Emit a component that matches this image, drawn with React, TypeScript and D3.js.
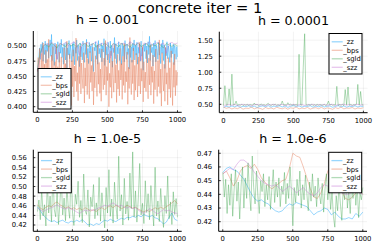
import React from 'react'
import * as d3 from 'd3'

const seriesNames = ['_zz', '_bps', '_sgld', '_szz']
const seriesColors = ['#009AFA', '#E36F47', '#3EA44E', '#C271D2']
const xTicks = [0, 250, 500, 750, 1000]
const mainTitle = 'concrete iter = 1'
const panelTitles = ['h = 0.001', 'h = 0.0001', 'h = 1.0e-5', 'h = 1.0e-6']

const yTicks1 = [0.4, 0.425, 0.45, 0.475, 0.5]
const yTicks2 = [0.5, 0.75, 1.0, 1.25, 1.5]
const yTicks3 = [0.42, 0.44, 0.46, 0.48, 0.5, 0.52, 0.54, 0.56]
const yTicks4 = [0.42, 0.43, 0.44, 0.45, 0.46, 0.47]

// h = 0.001
const zz1 = [
  0.462, 0.471, 0.484, 0.497, 0.478, 0.503, 0.489, 0.506, 0.475, 0.499,
  0.486, 0.508, 0.472, 0.502, 0.491, 0.505, 0.48, 0.497, 0.51, 0.483,
  0.519, 0.476, 0.503, 0.493, 0.468, 0.505, 0.487, 0.499, 0.478, 0.507,
  0.495, 0.473, 0.502, 0.488, 0.511, 0.481, 0.498, 0.47, 0.504, 0.492,
  0.477, 0.506, 0.463, 0.497, 0.485, 0.509, 0.479, 0.501, 0.49, 0.474,
  0.504, 0.483, 0.507, 0.469, 0.498, 0.488, 0.51, 0.476, 0.502, 0.494,
  0.466, 0.505, 0.482, 0.499, 0.477, 0.508, 0.491, 0.473, 0.503, 0.486,
  0.511, 0.48, 0.496, 0.471, 0.506, 0.489, 0.5, 0.475, 0.504, 0.484,
  0.458, 0.498, 0.492, 0.507, 0.478, 0.502, 0.47, 0.509, 0.487, 0.496,
  0.481, 0.505, 0.474, 0.5, 0.49, 0.512, 0.468, 0.503, 0.485, 0.499,
  0.477, 0.506, 0.493, 0.472, 0.508, 0.484, 0.501, 0.465, 0.497, 0.489,
  0.514, 0.479, 0.504, 0.471, 0.498, 0.487, 0.507, 0.476, 0.502, 0.494,
  0.469, 0.505, 0.483, 0.5, 0.474, 0.509, 0.49, 0.478, 0.503, 0.486,
  0.496, 0.462, 0.507, 0.481, 0.499, 0.473, 0.504, 0.492, 0.51, 0.477,
  0.501, 0.485, 0.506, 0.47, 0.498, 0.488, 0.503, 0.475, 0.508, 0.483,
  0.497, 0.46, 0.502, 0.491, 0.505, 0.479, 0.5, 0.472, 0.507, 0.486,
  0.516, 0.476, 0.503, 0.489, 0.498, 0.467, 0.505, 0.482, 0.509, 0.474,
  0.501, 0.493, 0.478, 0.506, 0.485, 0.499, 0.471, 0.504, 0.488, 0.51,
  0.476, 0.502, 0.463, 0.497, 0.484, 0.507, 0.479, 0.5, 0.49, 0.473,
  0.505, 0.481, 0.498, 0.487, 0.503, 0.469, 0.501, 0.494, 0.478, 0.499,
  0.482
]
const bps1 = [
  0.458, 0.481, 0.437, 0.496, 0.452, 0.423, 0.488, 0.441, 0.505, 0.429,
  0.47, 0.415, 0.493, 0.446, 0.478, 0.426, 0.511, 0.439, 0.463, 0.408,
  0.485, 0.432, 0.499, 0.454, 0.419, 0.474, 0.443, 0.503, 0.428, 0.466,
  0.412, 0.49, 0.448, 0.435, 0.482, 0.405, 0.459, 0.427, 0.497, 0.444,
  0.471, 0.418, 0.508, 0.436, 0.461, 0.424, 0.487, 0.45, 0.402, 0.476,
  0.433, 0.494, 0.416, 0.467, 0.442, 0.513, 0.425, 0.456, 0.41, 0.483,
  0.438, 0.5, 0.421, 0.472, 0.447, 0.43, 0.489, 0.406, 0.464, 0.434,
  0.506, 0.42, 0.479, 0.449, 0.413, 0.491, 0.44, 0.468, 0.426, 0.498,
  0.403, 0.457, 0.431, 0.484, 0.445, 0.417, 0.502, 0.437, 0.473, 0.422,
  0.462, 0.409, 0.495, 0.451, 0.428, 0.48, 0.436, 0.509, 0.419, 0.466,
  0.443, 0.487, 0.4, 0.455, 0.432, 0.492, 0.414, 0.475, 0.448, 0.424,
  0.501, 0.439, 0.469, 0.407, 0.486, 0.429, 0.46, 0.418, 0.496, 0.444,
  0.471, 0.412, 0.483, 0.435, 0.504, 0.423, 0.458, 0.441, 0.49, 0.404,
  0.465, 0.43, 0.514, 0.446, 0.42, 0.477, 0.438, 0.497, 0.411, 0.468,
  0.427, 0.488, 0.453, 0.416, 0.482, 0.434, 0.506, 0.421, 0.463, 0.442,
  0.499, 0.408, 0.474, 0.431, 0.457, 0.425, 0.493, 0.447, 0.413, 0.48,
  0.436, 0.502, 0.419, 0.466, 0.44, 0.485, 0.405, 0.459, 0.428, 0.495,
  0.45, 0.417, 0.476, 0.433, 0.51, 0.422, 0.462, 0.401, 0.489, 0.444,
  0.426, 0.47, 0.409, 0.498, 0.437, 0.456, 0.403, 0.481, 0.429, 0.464,
  0.415, 0.492, 0.441, 0.402, 0.473, 0.432, 0.487, 0.418, 0.46, 0.435,
  0.457
]
const sgld1 = [0.461, 0.489, 0.5, 0.503, 0.498, 0.505, 0.501, 0.497, 0.504, 0.502, 0.499, 0.505, 0.5, 0.503, 0.498, 0.504, 0.501, 0.505, 0.499, 0.502, 0.504, 0.498, 0.503, 0.5, 0.505, 0.501, 0.497, 0.504, 0.502, 0.499, 0.505, 0.5, 0.503, 0.498, 0.504, 0.501, 0.505, 0.499, 0.502, 0.504, 0.498, 0.503, 0.5, 0.505, 0.501, 0.497, 0.504, 0.502, 0.499, 0.503, 0.5]
const szz1 = [0.458, 0.482, 0.499, 0.504, 0.501, 0.506, 0.503, 0.478, 0.505, 0.502, 0.506, 0.5, 0.504, 0.507, 0.502, 0.485, 0.505, 0.503, 0.506, 0.501, 0.504, 0.507, 0.499, 0.505, 0.502, 0.506, 0.48, 0.504, 0.501, 0.506, 0.503, 0.505, 0.5, 0.507, 0.504, 0.502, 0.506, 0.476, 0.505, 0.503, 0.507, 0.501, 0.504, 0.506, 0.502, 0.505, 0.488, 0.504, 0.506, 0.503, 0.505]

// h = 0.0001
const zz2 = [0.452, 0.468, 0.457, 0.474, 0.461, 0.478, 0.455, 0.47, 0.463, 0.476, 0.458, 0.472, 0.45, 0.467, 0.475, 0.46, 0.479, 0.456, 0.471, 0.464, 0.477, 0.459, 0.473, 0.453, 0.469, 0.48, 0.462, 0.475, 0.457, 0.47, 0.466, 0.478, 0.455, 0.472, 0.461, 0.476, 0.458, 0.469, 0.474, 0.454, 0.467, 0.479, 0.46, 0.473, 0.456, 0.47, 0.463, 0.477, 0.459, 0.471, 0.465]
const bps2 = [0.455, 0.438, 0.449, 0.427, 0.444, 0.432, 0.452, 0.424, 0.441, 0.435, 0.456, 0.429, 0.446, 0.437, 0.421, 0.45, 0.433, 0.443, 0.426, 0.454, 0.439, 0.43, 0.447, 0.423, 0.445, 0.436, 0.458, 0.428, 0.442, 0.434, 0.451, 0.425, 0.44, 0.447, 0.431, 0.453, 0.427, 0.444, 0.436, 0.422, 0.448, 0.433, 0.457, 0.429, 0.441, 0.438, 0.45, 0.426, 0.443, 0.435, 0.446]
const sgld2 = [
  0.478, 0.79, 0.485, 0.492, 0.74, 0.481, 0.97, 0.488, 0.495, 0.55,
  0.483, 0.497, 0.486, 0.502, 0.479, 0.494, 0.488, 0.5, 0.482, 0.496,
  0.491, 0.485, 0.52, 0.489, 0.498, 0.48, 0.493, 0.503, 0.487, 0.495,
  0.484, 0.499, 0.515, 0.49, 0.482, 0.497, 0.488, 0.501, 0.485, 0.494,
  0.479, 0.492, 0.55, 0.487, 0.498, 0.483, 0.525, 0.489, 0.502, 0.484,
  0.495, 0.488, 0.499, 0.481, 1.28, 0.49, 0.486, 1.07, 1.6, 0.492,
  0.484, 0.497, 0.489, 0.503, 0.48, 0.494, 0.487, 0.5, 0.483, 0.496,
  0.49, 0.485, 0.498, 0.481, 0.493, 0.55, 0.488, 0.501, 0.484, 0.495,
  0.489, 0.78, 0.482, 0.497, 0.486, 0.5, 0.479, 0.73, 0.491, 0.77,
  0.485, 0.498, 0.483, 0.494, 0.488, 0.502, 0.81, 0.487, 0.7, 0.49,
  0.486
]
const szz2 = [0.468, 0.489, 0.495, 0.483, 0.498, 0.477, 0.492, 0.5, 0.486, 0.496, 0.48, 0.494, 0.499, 0.485, 0.491, 0.476, 0.497, 0.488, 0.501, 0.482, 0.493, 0.498, 0.479, 0.495, 0.487, 0.5, 0.484, 0.492, 0.497, 0.478, 0.494, 0.489, 0.502, 0.481, 0.496, 0.486, 0.499, 0.483, 0.493, 0.498, 0.477, 0.495, 0.49, 0.501, 0.485, 0.497, 0.48, 0.494, 0.499, 0.487, 0.492]

// h = 1.0e-5
const zz3 = [0.458, 0.45, 0.441, 0.435, 0.43, 0.427, 0.429, 0.425, 0.428, 0.43, 0.426, 0.424, 0.428, 0.426, 0.43, 0.427, 0.431, 0.426, 0.42, 0.422, 0.419, 0.423, 0.421, 0.426, 0.43, 0.428, 0.432, 0.429, 0.427, 0.431, 0.434, 0.432, 0.436, 0.435, 0.438, 0.436, 0.44, 0.437, 0.442, 0.439, 0.437, 0.44, 0.435, 0.433, 0.428, 0.422, 0.426, 0.436, 0.445, 0.432, 0.429]
const bps3 = [0.462, 0.455, 0.452, 0.457, 0.46, 0.458, 0.465, 0.468, 0.462, 0.459, 0.455, 0.458, 0.453, 0.456, 0.452, 0.455, 0.451, 0.456, 0.453, 0.449, 0.452, 0.448, 0.453, 0.456, 0.452, 0.457, 0.46, 0.456, 0.461, 0.458, 0.454, 0.457, 0.461, 0.458, 0.455, 0.457, 0.453, 0.45, 0.447, 0.451, 0.448, 0.452, 0.456, 0.453, 0.457, 0.454, 0.458, 0.462, 0.466, 0.471, 0.464]
const sgld3 = [
  0.448, 0.472, 0.431, 0.495, 0.439, 0.462, 0.418, 0.508, 0.445, 0.48,
  0.427, 0.53, 0.452, 0.437, 0.488, 0.421, 0.467, 0.515, 0.441, 0.476,
  0.429, 0.499, 0.456, 0.434, 0.538, 0.447, 0.419, 0.484, 0.463, 0.511,
  0.436, 0.471, 0.425, 0.526, 0.45, 0.442, 0.493, 0.416, 0.478, 0.458,
  0.504, 0.433, 0.466, 0.44, 0.519, 0.428, 0.487, 0.453, 0.414, 0.498,
  0.445, 0.535, 0.438, 0.474, 0.424, 0.509, 0.46, 0.432, 0.563, 0.449,
  0.483, 0.42, 0.517, 0.443, 0.469, 0.43, 0.528, 0.454, 0.572, 0.437,
  0.491, 0.426, 0.476, 0.548, 0.441, 0.465, 0.423, 0.512, 0.446, 0.485,
  0.431, 0.502, 0.457, 0.418, 0.54, 0.439, 0.47, 0.427, 0.496, 0.451,
  0.415, 0.481, 0.444, 0.522, 0.433, 0.468, 0.421, 0.489, 0.442, 0.475,
  0.436
]
const szz3 = [0.455, 0.452, 0.448, 0.451, 0.454, 0.456, 0.459, 0.462, 0.458, 0.455, 0.453, 0.456, 0.454, 0.451, 0.447, 0.444, 0.448, 0.451, 0.449, 0.452, 0.45, 0.453, 0.456, 0.458, 0.461, 0.459, 0.463, 0.466, 0.462, 0.459, 0.461, 0.457, 0.455, 0.458, 0.454, 0.456, 0.451, 0.447, 0.444, 0.449, 0.454, 0.451, 0.446, 0.443, 0.448, 0.452, 0.449, 0.451, 0.447, 0.445, 0.444]

// h = 1.0e-6
const zz4 = [0.456, 0.459, 0.46, 0.458, 0.457, 0.454, 0.451, 0.446, 0.441, 0.437, 0.435, 0.436, 0.434, 0.433, 0.43, 0.428, 0.427, 0.428, 0.431, 0.433, 0.432, 0.434, 0.433, 0.432, 0.431, 0.428, 0.425, 0.427, 0.428, 0.43, 0.429, 0.425, 0.427, 0.424, 0.422, 0.422, 0.423, 0.422, 0.426, 0.424, 0.427]
const bps4 = [0.455, 0.457, 0.452, 0.446, 0.45, 0.457, 0.46, 0.461, 0.459, 0.462, 0.458, 0.452, 0.449, 0.446, 0.444, 0.446, 0.448, 0.45, 0.451, 0.459, 0.47, 0.468, 0.467, 0.46, 0.452, 0.444, 0.438, 0.437, 0.441, 0.448, 0.457, 0.461, 0.455, 0.448, 0.442, 0.437, 0.436, 0.438, 0.441, 0.443, 0.44]
const sgld4 = [
  0.456, 0.438, 0.451, 0.426, 0.447, 0.432, 0.455, 0.424, 0.443, 0.458,
  0.435, 0.449, 0.422, 0.446, 0.46, 0.43, 0.452, 0.437, 0.463, 0.441,
  0.428, 0.468, 0.445, 0.433, 0.457, 0.439, 0.426, 0.45, 0.442, 0.455,
  0.431, 0.447, 0.436, 0.453, 0.429, 0.444, 0.458, 0.434, 0.449, 0.438,
  0.452, 0.431, 0.446, 0.44, 0.456, 0.433, 0.448, 0.437, 0.46, 0.442,
  0.417, 0.445, 0.434, 0.451, 0.439, 0.457, 0.43, 0.447, 0.436, 0.454,
  0.441, 0.428, 0.449, 0.435, 0.455, 0.438, 0.446, 0.431, 0.452, 0.44,
  0.433, 0.448, 0.427, 0.444, 0.455, 0.436, 0.45, 0.429, 0.442, 0.424,
  0.416, 0.439, 0.428, 0.447, 0.433, 0.421, 0.445, 0.436, 0.452, 0.43,
  0.443, 0.426, 0.449, 0.437, 0.454, 0.432, 0.446, 0.423, 0.441, 0.436,
  0.445
]
const szz4 = [0.455, 0.457, 0.459, 0.458, 0.462, 0.465, 0.465, 0.463, 0.46, 0.456, 0.453, 0.45, 0.448, 0.447, 0.446, 0.447, 0.445, 0.442, 0.444, 0.446, 0.444, 0.441, 0.443, 0.445, 0.442, 0.44, 0.439, 0.441, 0.445, 0.447, 0.446, 0.445, 0.443, 0.445, 0.441, 0.44, 0.44, 0.442, 0.443, 0.441, 0.44]

const FONT = 'DejaVu Sans, sans-serif'

type Box = { left: number; right: number; top: number; bottom: number }

const Panel = ({ box, yDomain, yTicks, yFormat, title, series, legendX, legendY }: {
  box: Box; yDomain: number[]; yTicks: number[]; yFormat: string; title: string
  series: number[][]; legendX: number; legendY: number
}) => {
  const x = d3.scaleLinear().domain([-29, 1030]).range([box.left, box.right])
  const y = d3.scaleLinear().domain(yDomain).range([box.bottom, box.top])
  const fmt = d3.format(yFormat)
  const line = d3.line<number[]>().x(d => x(d[0])).y(d => y(d[1]))
  const clipId = 'clip' + Math.round(box.left) + '_' + Math.round(box.top)
  return (
    <g>
      <defs>
        <clipPath id={clipId}>
          <rect x={box.left} y={box.top} width={box.right - box.left} height={box.bottom - box.top} />
        </clipPath>
      </defs>
      {xTicks.map(t => (
        <line key={'gx' + t} x1={x(t)} x2={x(t)} y1={box.top} y2={box.bottom} stroke='#000' strokeOpacity={0.1} strokeWidth={0.5} />
      ))}
      {yTicks.map(t => (
        <line key={'gy' + t} x1={box.left} x2={box.right} y1={y(t)} y2={y(t)} stroke='#000' strokeOpacity={0.1} strokeWidth={0.5} />
      ))}
      <g clipPath={`url(#${clipId})`}>
        {series.map((vals, k) => {
          // iterations 1..1000, spread over the sampled values
          const pts = vals.map((v, i) => [1 + (i * 999) / (vals.length - 1), v])
          return <path key={k} d={line(pts) || ''} fill='none' stroke={seriesColors[k]} strokeOpacity={0.4} strokeWidth={1} />
        })}
      </g>
      <line x1={box.left} x2={box.left} y1={box.top} y2={box.bottom} stroke='#000' strokeWidth={1} />
      <line x1={box.left} x2={box.right} y1={box.bottom} y2={box.bottom} stroke='#000' strokeWidth={1} />
      {xTicks.map(t => (
        <g key={'tx' + t}>
          <line x1={x(t)} x2={x(t)} y1={box.bottom} y2={box.bottom - 2} stroke='#000' strokeWidth={0.8} />
          <text x={x(t)} y={box.bottom + 10} fontSize={6.8} textAnchor='middle' fontFamily={FONT}>{t}</text>
        </g>
      ))}
      {yTicks.map(t => (
        <g key={'ty' + t}>
          <line x1={box.left} x2={box.left + 2} y1={y(t)} y2={y(t)} stroke='#000' strokeWidth={0.8} />
          <text x={box.left - 6.5} y={y(t) + 2.4} fontSize={6.8} textAnchor='end' fontFamily={FONT}>{fmt(t)}</text>
        </g>
      ))}
      <text x={(box.left + box.right) / 2} y={box.top - 7} fontSize={12.7} textAnchor='middle' fontFamily={FONT}>{title}</text>
      <g transform={`translate(${legendX},${legendY})`}>
        <rect x={0} y={0} width={33} height={40.5} fill='#fff' stroke='#000' strokeWidth={1} />
        {seriesNames.map((name, k) => (
          <g key={name} transform={`translate(0,${8.3 + k * 8.5})`}>
            <line x1={2.7} x2={13.7} y1={0} y2={0} stroke={seriesColors[k]} strokeOpacity={0.4} strokeWidth={1.3} />
            <text x={14.3} y={2.4} fontSize={6.8} fontFamily={FONT}>{name}</text>
          </g>
        ))}
      </g>
    </g>
  )
}

const App = () => {
  return (
    <svg width={374} height={249} style={{ position: 'absolute', left: 0, top: 0, background: '#fff' }}>
      <text x={200} y={13.3} fontSize={14.7} textAnchor='middle' fontFamily={FONT}>{mainTitle}</text>
      <Panel box={{ left: 33.3, right: 181.7, top: 31, bottom: 112.3 }} yDomain={[0.3908, 0.5247]} yTicks={yTicks1} yFormat='.3f'
        title={panelTitles[0]} series={[zz1, bps1, sgld1, szz1]} legendX={38} legendY={68.5} />
      <Panel box={{ left: 219.3, right: 367.6, top: 31.7, bottom: 112.7 }} yDomain={[0.369, 1.632]} yTicks={yTicks2} yFormat='.2f'
        title={panelTitles[1]} series={[zz2, bps2, sgld2, szz2]} legendX={329} legendY={33.5} />
      <Panel box={{ left: 33.3, right: 181.7, top: 149.7, bottom: 231.3 }} yDomain={[0.4069, 0.5766]} yTicks={yTicks3} yFormat='.2f'
        title={panelTitles[2]} series={[zz3, bps3, sgld3, szz3]} legendX={38.3} legendY={152.3} />
      <Panel box={{ left: 218.7, right: 367, top: 149.7, bottom: 231.3 }} yDomain={[0.413, 0.4726]} yTicks={yTicks4} yFormat='.2f'
        title={panelTitles[3]} series={[zz4, bps4, sgld4, szz4]} legendX={328.7} legendY={152.3} />
    </svg>
  )
}

export default App
